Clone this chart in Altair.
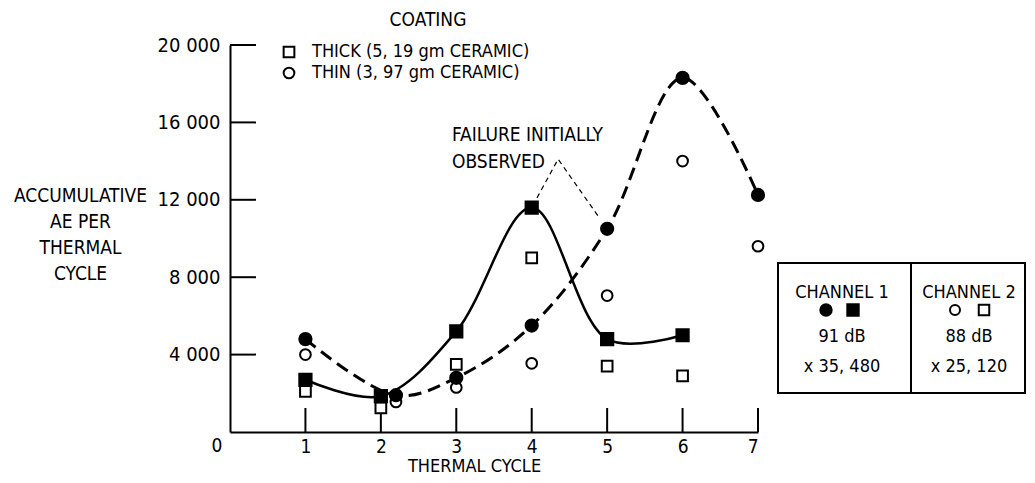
import altair as alt
import pandas as pd

# ---------------- data ----------------
cycles_thick = [1, 2, 3, 4, 5, 6]
ch1_thick = [2700, 1850, 5200, 11600, 4800, 5000]      # filled squares
ch2_thick = [2100, 1250, 3500, 9000, 3400, 2900]       # open squares
cycles_thin = [1, 2.2, 3, 4, 5, 6, 7]
ch1_thin = [4800, 1900, 2800, 5500, 10500, 18300, 12250]  # filled circles
ch2_thin = [4000, 1550, 2300, 3550, 7050, 14000, 9600]    # open circles

coating_labels = ["THICK (5, 19 gm CERAMIC)", "THIN (3, 97 gm CERAMIC)"]
channel_names = ["CHANNEL 1", "CHANNEL 2"]
channel_db = ["91 dB", "88 dB"]
channel_factor = ["x 35, 480", "x 25, 120"]

x_ticks = [1, 2, 3, 4, 5, 6, 7]
y_ticks = [4000, 8000, 12000, 16000, 20000]
y_title = ["ACCUMULATIVE", "AE PER", "THERMAL", "CYCLE"]
x_title = "THERMAL CYCLE"
legend_title = "COATING"
note_lines = ["FAILURE INITIALLY", "OBSERVED"]
note_x = [4.07, 4.35, 4.9]
note_y = [12100, 14100, 11050]

# ---------------- tables ----------------
rows = []
for ch, thick_vals, thin_vals in [(channel_names[1], ch2_thick, ch2_thin),
                                  (channel_names[0], ch1_thick, ch1_thin)]:
    for c, v in zip(cycles_thick, thick_vals):
        rows.append({"cycle": c, "value": v, "coating": coating_labels[0], "channel": ch})
    for c, v in zip(cycles_thin, thin_vals):
        rows.append({"cycle": c, "value": v, "coating": coating_labels[1], "channel": ch})
points_df = pd.DataFrame(rows)
thick_line_df = pd.DataFrame({"cycle": cycles_thick, "value": ch1_thick})
thin_line_df = pd.DataFrame({"cycle": cycles_thin, "value": ch1_thin})
note_df = pd.DataFrame({"cycle": note_x, "value": note_y})
xt_df = pd.DataFrame({"cycle": x_ticks})
yt_df = pd.DataFrame({"value": y_ticks})

FONT = "DejaVu Sans Condensed, Liberation Sans Narrow, sans-serif"
W, H = 528, 387
xs = alt.Scale(domain=[0, 7], nice=False, zero=False)
ys = alt.Scale(domain=[0, 20000], nice=False)

x_axis = alt.Axis(
    values=x_ticks, format="d", ticks=False, tickSize=0, grid=False,
    domainColor="black", domainWidth=2, labelFont=FONT, labelFontSize=19,
    labelColor="black", labelPadding=5, title=x_title, titleFont=FONT,
    titleFontSize=18, titleFontWeight="normal", titleColor="black",
    titleX=244, titleY=34, titleBaseline="middle", titleAlign="center")
y_axis = alt.Axis(
    values=y_ticks, labelExpr="replace(format(datum.value, ','), ',', ' ')",
    ticks=False, tickSize=0, grid=False, domainColor="black", domainWidth=2,
    labelFont=FONT, labelFontSize=20, labelColor="black", labelPadding=10,
    title=y_title, titleFont=FONT, titleFontSize=19, titleFontWeight="normal",
    titleColor="black", titleAngle=0, titleAlign="center", titleBaseline="top",
    titleX=-150, titleY=141, titleLineHeight=26)

X = alt.X("cycle:Q", scale=xs, axis=x_axis)
Y = alt.Y("value:Q", scale=ys, axis=y_axis)

# inward tick marks
ytick_layer = alt.Chart(yt_df).mark_rule(color="black", strokeWidth=2).encode(
    y=Y, x=alt.value(0), x2=alt.value(26))
xtick_layer = alt.Chart(xt_df).mark_rule(color="black", strokeWidth=2).encode(
    x=X, y=alt.value(H), y2=alt.value(H - 24))

solid = alt.Chart(thick_line_df).mark_line(
    interpolate="catmull-rom", color="black", strokeWidth=2.5).encode(x=X, y=Y)
dashed = alt.Chart(thin_line_df).mark_line(
    interpolate="catmull-rom", color="black", strokeWidth=3, strokeDash=[13, 7]).encode(x=X, y=Y)
note_line = alt.Chart(note_df).mark_line(
    color="black", strokeWidth=1.2, strokeDash=[5, 4]).encode(x=X, y=Y)

points = alt.Chart(points_df).mark_point(
    filled=True, stroke="black", strokeWidth=2, opacity=1).encode(
    x=X, y=Y,
    shape=alt.Shape("coating:N", scale=alt.Scale(domain=coating_labels, range=["square", "circle"]),
                    legend=alt.Legend(orient="none", legendX=50, legendY=-2, title=None,
                                      labelFont=FONT, labelFontSize=18, labelColor="black",
                                      labelLimit=0, labelOffset=14, symbolSize=115,
                                      symbolStrokeWidth=2, symbolFillColor="white",
                                      symbolStrokeColor="black", rowPadding=1, padding=0)),
    fill=alt.Fill("channel:N", scale=alt.Scale(domain=channel_names, range=["black", "white"]), legend=None),
    size=alt.Size("channel:N", scale=alt.Scale(domain=channel_names, range=[150, 115]), legend=None),
)


def txt(s, x, y, align="center", size=19):
    return alt.Chart(alt.Data(values=[{}])).mark_text(
        text=s, font=FONT, fontSize=size, align=align, baseline="middle", color="black"
    ).encode(x=alt.value(x), y=alt.value(y))


def box(x1, x2, y1, y2):
    return alt.Chart(alt.Data(values=[{}])).mark_rect(
        filled=False, stroke="black", strokeWidth=2).encode(
        x=alt.value(x1), x2=alt.value(x2), y=alt.value(y1), y2=alt.value(y2))


def sym(shape, filled, x, y, size):
    return alt.Chart(alt.Data(values=[{}])).mark_point(
        shape=shape, filled=True, fill="black" if filled else "white", stroke="black",
        strokeWidth=2, size=size, opacity=1).encode(x=alt.value(x), y=alt.value(y))


texts = [
    txt(legend_title, 198, -25, size=19),
    txt(note_lines[0], 222, 90, align="left", size=19),
    txt(note_lines[1], 222, 117, align="left", size=19),
    txt("0", -13, 401, size=19),
]
table = [box(548, 681, 218, 348), box(681, 795, 218, 348)]
col_centers = [612, 739]
for i, cx in enumerate(col_centers):
    table += [txt(channel_names[i], cx, 248, size=18), txt(channel_db[i], cx, 292, size=18),
              txt(channel_factor[i], cx, 322, size=18)]
table += [sym("circle", True, 596, 265, 130), sym("square", True, 623, 265, 130),
          sym("circle", False, 725, 265, 100), sym("square", False, 754, 265, 110)]

chart = alt.layer(ytick_layer, xtick_layer, solid, dashed, note_line, points, *texts, *table).properties(
    width=W, height=H,
    autosize=alt.AutoSizeParams(type="none"),
    padding={"left": 222, "top": 37, "right": 269, "bottom": 43},
    background="white",
).configure_view(stroke=None)

chart.save("out.html", embed_options={"renderer": "svg", "actions": False})
